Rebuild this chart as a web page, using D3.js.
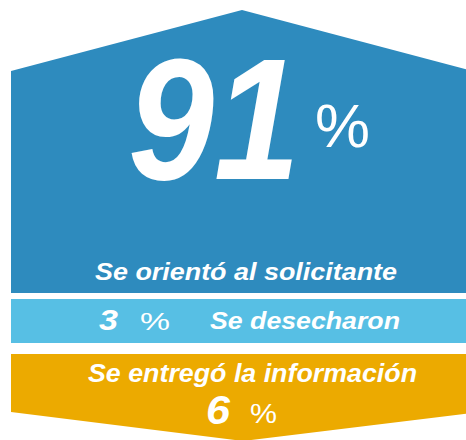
<!DOCTYPE html>
<html>
<head>
<meta charset="utf-8">
<script src="https://cdn.jsdelivr.net/npm/d3@7"></script>
<style>
  html, body { margin: 0; padding: 0; background: #ffffff; }
  svg { display: block; }
  text { font-family: "Liberation Sans", Arial, sans-serif; fill: #ffffff; }
</style>
</head>
<body>
<svg id="chart" width="466" height="440"></svg>
<script>
// ---- data ----
const categories = ["Se orientó al solicitante", "Se desecharon", "Se entregó la información"];
const values = [91, 3, 6];
const colors = ["#2e8bbe", "#57bfe4", "#ecaa00"];
const unit = "%";

const svg = d3.select("#chart");

// layout scales
const x = d3.scaleLinear().domain([0, 1]).range([11, 473]);   // shape spans slightly beyond the right edge
const xMid = x(0.5);
const y = d3.scaleLinear().domain([0, 440]).range([0, 440]);

const line = d3.line().x(d => d[0]).y(d => d[1]);

// blue house shape
svg.append("path")
  .attr("d", line([[x(0), y(71)], [xMid, y(10)], [x(1), y(71)], [x(1), y(293)], [x(0), y(293)]]) + "Z")
  .attr("fill", colors[0]);

// light blue band
svg.append("rect")
  .attr("x", x(0)).attr("y", y(299))
  .attr("width", x(1) - x(0)).attr("height", y(343) - y(299))
  .attr("fill", colors[1]);

// orange arrow shape
svg.append("path")
  .attr("d", line([[x(0), y(354)], [x(1), y(354)], [x(1), y(413)], [xMid + 1, y(441)], [x(0), y(412)]]) + "Z")
  .attr("fill", colors[2]);

function label(px, py, size, txt, len, bold) {
  const t = svg.append("text")
    .attr("x", px).attr("y", py)
    .attr("font-size", size)
    .text(txt);
  if (bold) t.attr("font-weight", "bold").attr("font-style", "italic");
  if (len) t.attr("textLength", len).attr("lengthAdjust", "spacingAndGlyphs");
  return t;
}

// big value
label(128, 179, 172, values[0], 172, true);
label(315, 147, 62, unit, 55, false);
label(95, 280, 24, categories[0], 302, true);

// light band
label(99, 330, 30, values[1], 19, true);
label(140, 330, 23, unit, 30, false);
label(210, 329, 24, categories[1], 190, true);

// orange band
label(88, 382, 26, categories[2], 329, true);
label(206, 424, 40, values[2], 24, true);
label(250, 423, 28, unit, 27, false);
</script>
</body>
</html>
